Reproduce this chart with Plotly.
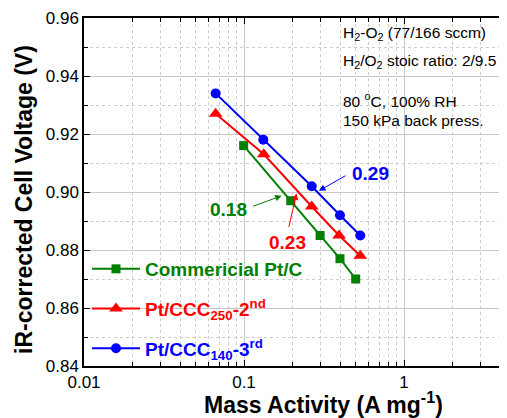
import numpy as np
import plotly.graph_objects as go

# ---- data ----
commercial_x = [0.0995, 0.196, 0.299, 0.398, 0.499]
commercial_y = [0.916, 0.897, 0.885, 0.877, 0.870]
ccc250_x = [0.0665, 0.133, 0.265, 0.393, 0.533]
ccc250_y = [0.927, 0.913, 0.895, 0.885, 0.878]
ccc140_x = [0.0665, 0.132, 0.265, 0.398, 0.533]
ccc140_y = [0.934, 0.918, 0.902, 0.892, 0.885]

series_names = ["Commericial Pt/C",
                "Pt/CCC<sub>250</sub>-2<sup>nd</sup>",
                "Pt/CCC<sub>140</sub>-3<sup>rd</sup>"]
x_ticks = [0.01, 0.1, 1]
x_ticklabels = ["0.01", "0.1", "1"]
y_ticks = [0.84, 0.86, 0.88, 0.90, 0.92, 0.94, 0.96]

# annotated mass activities: label, arrow-tip x, arrow-tip y
ma_labels = ["0.18", "0.23", "0.29"]
ma_tip_x = [0.172, 0.213, 0.294]
ma_tip_y = [0.8987, 0.8995, 0.9004]

GREEN = "rgb(0,128,0)"
RED = "rgb(255,0,0)"
BLUE = "rgb(0,0,255)"
FONT = "Liberation Sans, Arial, sans-serif"
colors = [GREEN, RED, BLUE]

fig = go.Figure()
xs = [commercial_x, ccc250_x, ccc140_x]
ys = [commercial_y, ccc250_y, ccc140_y]
symbols = ["square", "triangle-up", "circle"]
sizes = [9, 12, 10]
for i in range(3):
    fig.add_trace(go.Scatter(
        x=xs[i], y=ys[i],
        name='<span style="color:%s"><b>%s</b></span>' % (colors[i], series_names[i]),
        mode="lines+markers",
        line=dict(color=colors[i], width=2),
        marker=dict(symbol=symbols[i], size=sizes[i], color=colors[i]),
        legendgroup="g%d" % i))

# page body has an 8px margin: figure is offset by (8, 8) in the window
OFF = 8
W, H = 507 - OFF, 418 - OFF
L, T = 84 - OFF, 18 - OFF
PW = W - L
PH = 348
B = H - T - PH


def px(xw):
    return (xw - OFF - L) / PW


def py(yw):
    return (OFF + T + PH - yw) / PH


annotations = []
# arrows (tail offsets in pixels)
arrow_ax = [-30, -8, 28]
arrow_ay = [11, 35, -16]
for i in range(3):
    annotations.append(dict(x=np.log10(ma_tip_x[i]), y=ma_tip_y[i], xref="x", yref="y",
                            text="", showarrow=True, ax=arrow_ax[i], ay=arrow_ay[i],
                            axref="pixel", ayref="pixel",
                            arrowhead=2, arrowsize=1.3, arrowwidth=1,
                            arrowcolor=colors[i]))
label_pos = [(228, 209), (287, 242.5), (370, 173)]
for i in range(3):
    annotations.append(dict(x=px(label_pos[i][0]), y=py(label_pos[i][1]),
                            xref="paper", yref="paper", text="<b>%s</b>" % ma_labels[i],
                            showarrow=False, xanchor="center", yanchor="middle",
                            font=dict(size=19, color=colors[i], family=FONT)))

cond_lines = ["H<sub>2</sub>-O<sub>2</sub> (77/166 sccm)",
              "H<sub>2</sub>/O<sub>2</sub> stoic ratio: 2/9.5",
              "80 <sup>o</sup>C, 100% RH",
              "150 kPa back press."]
cond_y = [33, 61.7, 100, 120.5]
for t, yy in zip(cond_lines, cond_y):
    annotations.append(dict(x=px(341), y=py(yy), xref="paper", yref="paper", text=t,
                            showarrow=False, xanchor="left", yanchor="middle",
                            font=dict(size=15.5, color="black", family=FONT)))

# axis titles
annotations.append(dict(x=px(323), y=py(403), xref="paper", yref="paper",
                        text="<b>Mass Activity (A mg<sup>-1</sup>)</b>", showarrow=False,
                        xanchor="center", yanchor="middle",
                        font=dict(size=23, color="black", family=FONT)))
annotations.append(dict(x=px(24), y=py(200), xref="paper", yref="paper",
                        text="<b>iR-corrected Cell Voltage (V)</b>", showarrow=False,
                        textangle=-90, xanchor="center", yanchor="middle",
                        font=dict(size=23, color="black", family=FONT)))

fig.update_layout(
    width=W, height=H,
    margin=dict(l=L, r=0, t=T, b=B, autoexpand=False),
    paper_bgcolor="white", plot_bgcolor="white",
    font=dict(family=FONT, size=17, color="black"),
    showlegend=True,
    legend=dict(x=px(87), y=py(250), xanchor="left", yanchor="top",
                bgcolor="rgba(0,0,0,0)", font=dict(size=19, family=FONT),
                itemwidth=48, tracegroupgap=12),
    annotations=annotations,
)

fig.update_xaxes(type="log", range=[-2, -2 + PW / 160.0], automargin=False,
                 tickmode="array", tickvals=x_ticks, ticktext=x_ticklabels,
                 ticks="inside", ticklen=6, tickcolor="black",
                 showline=True, linecolor="black", linewidth=1.5, mirror="allticks",
                 showgrid=True, gridcolor="rgb(200,200,200)", gridwidth=1,
                 zeroline=False,
                 tickfont=dict(size=17, family=FONT),
                 minor=dict(dtick="D1", ticks="inside", ticklen=4, tickcolor="black",
                            showgrid=True, gridcolor="rgb(205,205,205)", griddash="dot"))
fig.update_yaxes(range=[0.84, 0.96], tickmode="array", tickvals=y_ticks, automargin=False,
                 tickformat=".2f",
                 ticks="inside", ticklen=6, tickcolor="black",
                 showline=True, linecolor="black", linewidth=1.5, mirror=False,
                 showgrid=True, gridcolor="rgb(200,200,200)", gridwidth=1,
                 zeroline=False,
                 tickfont=dict(size=17, family=FONT),
                 minor=dict(dtick=0.01, ticks="inside", ticklen=4, tickcolor="black",
                            showgrid=True, gridcolor="rgb(205,205,205)", griddash="dot"))

fig.write_html("out.html")
